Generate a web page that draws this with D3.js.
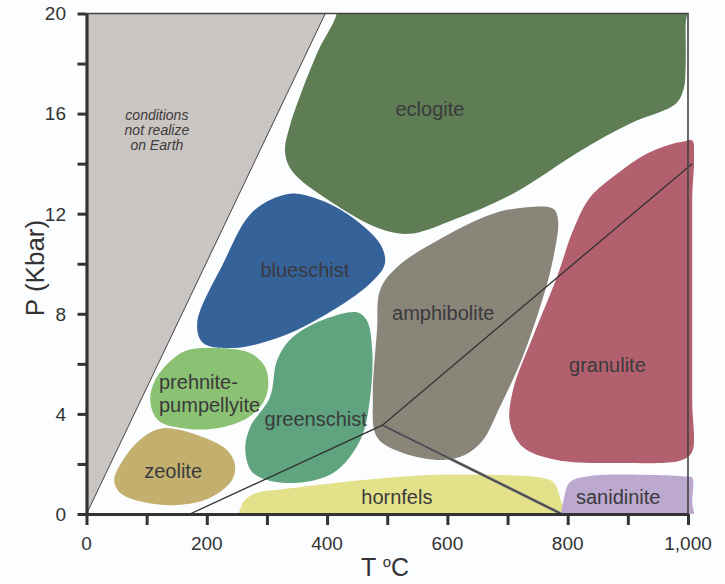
<!DOCTYPE html>
<html lang="en">
<head>
<meta charset="utf-8">
<title>Metamorphic facies</title>
<script src="https://d3js.org/d3.v7.min.js"></script>
<style>
  body { margin: 0; background: #fcfdff; font-family: "Liberation Sans", Arial, Helvetica, sans-serif; }
  svg { display: block; }
</style>
</head>
<body>
<div id="chart"></div>
<script>
// axis values
var xTicks = d3.range(0, 1001, 100)
var xLabels = [0, 200, 400, 600, 800, 1000]
var yTicks = d3.range(0, 21, 2)
var yLabels = [0, 4, 8, 12, 16, 20]

// facies outlines, [T degC, P kbar]
var notRealized = [[0, 0], [0, 20], [397, 20]]
var eclogite = [[416,20.8],[416,20],[385,18.5],[355,16.7],[338,15.5],[330,14.5],[342,13.7],[405,12.5],[488,11.4],[538,11.2],[604,11.7],[709,12.8],[820,14.5],[904,15.6],[980,16.4],[993,17.0],[996,17.8],[996,19.5],[996,20.8],[800,20.8],[600,20.8]]
var blueschist = [[338,12.8],[383,12.6],[433,12.0],[488,10.8],[496,10.0],[471,9.2],[400,8.0],[322,7.07],[244,6.63],[194,6.83],[184,7.62],[227,10.0],[277,12.1]]
var prehnite = [[205,6.63],[272,6.43],[297,5.87],[302,5.07],[293,4.43],[267,3.83],[217,3.43],[160,3.43],[119,3.75],[106,4.55],[117,5.47],[160,6.47]]
var zeolite = [[127,3.43],[194,3.07],[234,2.55],[247,1.96],[242,1.36],[205,0.64],[150,0.36],[94,0.48],[56,0.84],[46,1.36],[64,2.28],[94,3.07]]
var greenschist = [[450,8.06],[466,7.74],[475,6.55],[471,4.55],[455,2.95],[410,1.64],[333,1.24],[277,1.64],[264,2.55],[272,3.47],[305,4.67],[317,6.15],[343,7.07],[400,7.82]]
var amphibolite = [[776,12.2],[784,11.74],[774,10.0],[754,8.26],[721,6.03],[687,4.27],[659,2.95],[629,2.36],[593,2.16],[526,2.44],[483,3.07],[476,4.67],[483,7.35],[488,8.94],[516,9.86],[593,11.06],[676,12.0],[732,12.26]]
var granulite = [[1007,14.93],[1007,12.5],[1007,8.5],[1007,4.5],[1007,2.5],[990,2.16],[892,2.04],[782,2.16],[726,2.67],[704,3.63],[709,4.95],[742,7.07],[782,9.46],[809,11.34],[837,12.65],[882,13.6],[932,14.41],[975,14.8],[995,14.9]]
var hornfels = [[255,-0.4],[257,0.3],[266,0.62],[285,0.86],[322,0.98],[460,1.36],[571,1.56],[687,1.56],[749,1.48],[776,1.28],[786,0.76],[789,-0.4]]
var sanidinite = [[795,-0.4],[795,0.76],[804,1.28],[837,1.52],[942,1.56],[995,1.5],[1007,1.45],[1007,0.5],[1007,-0.4]]

var facies = [
  {name: "eclogite", pts: eclogite, color: "#5e7d55", T: 571, P: 16.2},
  {name: "blueschist", pts: blueschist, color: "#36629a", T: 363, P: 9.75},
  {name: "prehnite-pumpellyite", pts: prehnite, color: "#8bc173"},
  {name: "zeolite", pts: zeolite, color: "#c3b06f", T: 144, P: 1.72},
  {name: "greenschist", pts: greenschist, color: "#5fa37f", T: 381, P: 3.8},
  {name: "amphibolite", pts: amphibolite, color: "#8a8579", T: 593, P: 8.05},
  {name: "granulite", pts: granulite, color: "#b2606d", T: 866, P: 5.95},
  {name: "hornfels", pts: hornfels, color: "#e3e28b", T: 516, P: 0.68},
  {name: "sanidinite", pts: sanidinite, color: "#bda8cf", T: 884, P: 0.68}
]

// reaction lines
var wetSolidus = [[172, 0], [492, 3.55], [1007, 14.0]]
var lowerLine = [[492, 3.55], [790, 0]]

var W = 725, H = 584
var x = d3.scaleLinear().domain([0, 1000]).range([86.5, 688])
var y = d3.scaleLinear().domain([0, 20]).range([514, 13.5])

var svg = d3.select("#chart").append("svg")
  .attr("width", W).attr("height", H)

svg.append("rect").attr("width", W).attr("height", H).attr("fill", "#fcfdff")

svg.append("clipPath").attr("id", "plotclip")
  .append("rect")
  .attr("x", x(0)).attr("y", y(20))
  .attr("width", x(1010) - x(0)).attr("height", y(0) - y(20))

var plot = svg.append("g").attr("clip-path", "url(#plotclip)")

var blob = d3.line()
  .x(function(d){ return x(d[0]) })
  .y(function(d){ return y(d[1]) })
  .curve(d3.curveCatmullRomClosed.alpha(0.5))

var straight = d3.line()
  .x(function(d){ return x(d[0]) })
  .y(function(d){ return y(d[1]) })

// gray wedge
plot.append("path")
  .attr("d", straight(notRealized) + "Z")
  .attr("fill", "#c9c5c2")
plot.append("path")
  .attr("d", straight([notRealized[0], notRealized[2]]))
  .attr("fill", "none").attr("stroke", "#4a4444").attr("stroke-width", 1)

plot.selectAll("path.facies")
  .data(facies)
  .enter().append("path")
  .attr("class", "facies")
  .attr("d", function(d){ return blob(d.pts) })
  .attr("fill", function(d){ return d.color })

// reaction lines
plot.append("path")
  .attr("d", straight(lowerLine))
  .attr("fill", "none").attr("stroke", "#777").attr("stroke-width", 3)
plot.append("path")
  .attr("d", straight(lowerLine))
  .attr("fill", "none").attr("stroke", "#333").attr("stroke-width", 1)
svg.append("path")
  .attr("d", straight(wetSolidus))
  .attr("fill", "none").attr("stroke", "#333").attr("stroke-width", 1.3)

// frame top and right
svg.append("path")
  .attr("d", "M" + x(0) + "," + y(20) + "H" + x(1000) + "V" + y(0))
  .attr("fill", "none").attr("stroke", "#444").attr("stroke-width", 1.6)

// labels
var labelColor = "#3a3a3c"
svg.selectAll("text.flabel")
  .data(facies.filter(function(d){ return d.T !== undefined }))
  .enter().append("text")
  .attr("class", "flabel")
  .attr("x", function(d){ return x(d.T) })
  .attr("y", function(d){ return y(d.P) })
  .attr("dy", "0.35em")
  .attr("text-anchor", "middle")
  .attr("font-size", "20px")
  .attr("fill", labelColor)
  .text(function(d){ return d.name })

svg.append("text")
  .attr("x", x(120.5)).attr("y", y(5.27)).attr("dy", "0.35em")
  .attr("font-size", "20px").attr("fill", labelColor)
  .text("prehnite-")
svg.append("text")
  .attr("x", x(120.5)).attr("y", y(4.35)).attr("dy", "0.35em")
  .attr("font-size", "20px").attr("fill", labelColor)
  .text("pumpellyite")

var cond = ["conditions", "not realize", "on Earth"]
svg.selectAll("text.cond")
  .data(cond)
  .enter().append("text")
  .attr("class", "cond")
  .attr("x", x(117))
  .attr("y", function(d, i){ return 115 + i*15 })
  .attr("dy", "0.35em")
  .attr("text-anchor", "middle")
  .attr("font-size", "14px")
  .attr("font-style", "italic")
  .attr("fill", "#3f3b3b")
  .text(function(d){ return d })

// axes
var axisColor = "#333"
var xAxis = svg.append("g")
  .attr("transform", "translate(0," + y(0) + ")")
  .call(d3.axisBottom(x).tickValues(xTicks).tickSize(11).tickSizeOuter(0).tickFormat(""))
xAxis.select(".domain").attr("stroke", axisColor).attr("stroke-width", 3.2)
xAxis.selectAll(".tick line").attr("stroke", axisColor).attr("stroke-width", 3)

svg.append("g").selectAll("text")
  .data(xLabels)
  .enter().append("text")
  .attr("x", function(d){ return x(d) })
  .attr("y", 550)
  .attr("text-anchor", "middle")
  .attr("font-size", "19px")
  .attr("fill", axisColor)
  .text(d3.format(","))

var yAxis = svg.append("g")
  .attr("transform", "translate(" + x(0) + ",0)")
  .call(d3.axisLeft(y).tickValues(yTicks).tickSize(9).tickSizeOuter(0).tickFormat(""))
yAxis.select(".domain").attr("stroke", axisColor).attr("stroke-width", 3.2)
yAxis.selectAll(".tick line").attr("stroke", axisColor).attr("stroke-width", 3)

svg.append("g").selectAll("text")
  .data(yLabels)
  .enter().append("text")
  .attr("x", 66)
  .attr("y", function(d){ return y(d) })
  .attr("dy", "0.36em")
  .attr("text-anchor", "end")
  .attr("font-size", "19px")
  .attr("fill", axisColor)
  .text(function(d){ return d })

// axis titles
svg.append("text")
  .attr("transform", "translate(35," + 268 + ") rotate(-90)")
  .attr("text-anchor", "middle")
  .attr("dy", "0.35em")
  .attr("font-size", "26px")
  .attr("fill", axisColor)
  .text("P (Kbar)")

var tt = svg.append("text")
  .attr("x", 385).attr("y", 576)
  .attr("text-anchor", "middle")
  .attr("font-size", "25px")
  .attr("fill", axisColor)
tt.append("tspan").text("T ")
tt.append("tspan").attr("font-size", "15px").attr("dy", "-9").text("o")
tt.append("tspan").attr("dy", "9").text("C")
</script>
</body>
</html>
